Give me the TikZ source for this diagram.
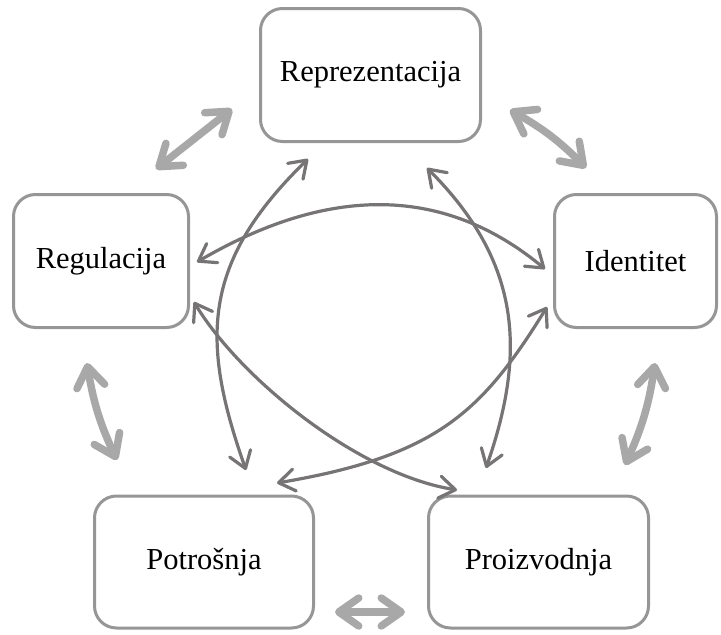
\documentclass[tikz,border=0pt]{standalone}
\usepackage{fontspec}
\setmainfont{Liberation Serif}
\usetikzlibrary{arrows.meta}
\definecolor{boxgray}{RGB}{150,150,150}
\definecolor{inner}{RGB}{118,116,116}
\definecolor{thickgray}{RGB}{168,168,168}
\begin{document}
\begin{tikzpicture}[x=1pt,y=-1pt,
  box/.style={draw=boxgray, line width=3pt, rounded corners=22pt, fill=white,
    inner sep=0pt, font=\fontsize{30.5}{36}\selectfont},
  innerarrow/.style={draw=inner, line width=3.2pt,
    arrows={Straight Barb[length=16pt,width=22pt,round]-Straight Barb[length=16pt,width=22pt,round]}},
  thickarrow/.style={draw=thickgray, line width=7.5pt, line cap=round,
    arrows={Straight Barb[length=20pt,width=28pt,round]-Straight Barb[length=20pt,width=28pt,round]}}
]
\useasboundingbox (0,0) rectangle (721,635);
\node[box, minimum width=220pt, minimum height=133pt] (rep) at (370.5,75) {Reprezentacija};
\node[box, minimum width=175pt, minimum height=133pt] (reg) at (101,261) {Regulacija};
\node[box, minimum width=162pt, minimum height=133pt] (ide) at (635.5,261) {Identitet};
\node[box, minimum width=219pt, minimum height=132pt] (pot) at (204,562) {Potrošnja};
\node[box, minimum width=220pt, minimum height=132pt] (pro) at (538.5,562) {Proizvodnja};

% thick outer arrows
\draw[thickarrow] ([shift={(55,-92)}]reg.center) -- ([shift={(-138.5,34)}]rep.center);
\draw[thickarrow] ([shift={(139.5,35)}]rep.center) to[bend left=8] ([shift={(-49.5,-93)}]ide.center);
\draw[thickarrow] ([shift={(-14,102)}]reg.center) to[bend right=8] ([shift={(-87,-102)}]pot.center);
\draw[thickarrow] ([shift={(19.5,102)}]ide.center) to[bend left=8] ([shift={(86.5,-97)}]pro.center);
\draw[thickarrow] ([shift={(131,50)}]pot.center) -- ([shift={(-133.5,50)}]pro.center);

% inner arrows
\draw[innerarrow] ([shift={(-62.5,84)}]rep.center) .. controls (202,262) and (200,340) .. ([shift={(42,-92)}]pot.center);
\draw[innerarrow] ([shift={(56.5,93)}]rep.center) .. controls (522,263) and (526,353) .. ([shift={(-52.5,-94)}]pro.center);
\draw[innerarrow] ([shift={(96,1)}]reg.center) .. controls (329,185) and (444,185) .. ([shift={(-90.5,8)}]ide.center);
\draw[innerarrow] ([shift={(93,41)}]reg.center) .. controls (239,377) and (357,474) .. ([shift={(-81.5,-72)}]pro.center);
\draw[innerarrow] ([shift={(-88.5,46)}]ide.center) .. controls (482,412) and (437,456) .. ([shift={(73,-79)}]pot.center);
\end{tikzpicture}
\end{document}
